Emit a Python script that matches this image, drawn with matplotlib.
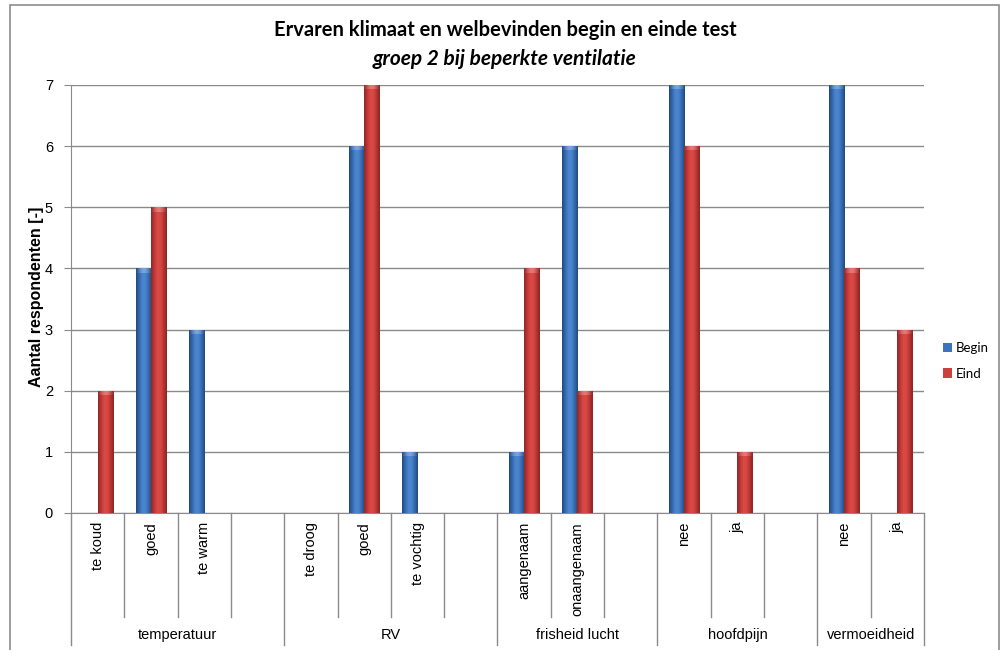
import numpy as np
import matplotlib
matplotlib.use("Agg")
import matplotlib.pyplot as plt
from matplotlib.colors import LinearSegmentedColormap
from matplotlib.patches import Rectangle
from matplotlib.transforms import blended_transform_factory

# --- data -------------------------------------------------------------
groups = ["temperatuur", "RV", "frisheid lucht", "hoofdpijn", "vermoeidheid"]
group_items = [
    ["te koud", "goed", "te warm", ""],
    ["te droog", "goed", "te vochtig", ""],
    ["aangenaam", "onaangenaam", ""],
    ["nee", "ja", ""],
    ["nee", "ja"],
]
begin = [0, 4, 3, np.nan, 0, 6, 1, np.nan, 1, 6, np.nan, 7, 0, np.nan, 7, 0]
eind = [2, 5, 0, np.nan, 0, 7, 0, np.nan, 4, 2, np.nan, 6, 1, np.nan, 4, 3]
series_names = ["Begin", "Eind"]
yticks = [0, 1, 2, 3, 4, 5, 6, 7]

title = "Ervaren klimaat en welbevinden begin en einde test"
subtitle = "groep 2 bij beperkte ventilatie"
ylabel = "Aantal respondenten [-]"

# --- style ------------------------------------------------------------
GRID = "#8a8a8a"
TITLE_FONT = "Lato"
AX_FONT = "Liberation Sans"

blue_cmap = LinearSegmentedColormap.from_list(
    "blue_cyl", ["#21497d", "#3468ad", "#4a85cf", "#4a84cc", "#3469ad", "#22497c"])
red_cmap = LinearSegmentedColormap.from_list(
    "red_cyl", ["#8e2725", "#bb3835", "#db4a46", "#d84744", "#b53532", "#882523"])
cap_cmap = LinearSegmentedColormap.from_list(
    "cap", [(1, 1, 1, 0.0), (1, 1, 1, 0.18), (1, 1, 1, 0.28), (1, 1, 1, 0.18), (1, 1, 1, 0.0)])
mid_colors = ["#3b73bd", "#c9403c"]

labels = [lab for items in group_items for lab in items]
n = len(labels)
x = np.arange(n) + 0.5
w = 0.29

fig = plt.figure(figsize=(10, 6.5), dpi=100)
ax = fig.add_axes([0.071, 1 - 513 / 650, 0.853, 428 / 650])

ax.set_xlim(0, n)
ax.set_ylim(0, 7)

grad = np.linspace(0, 1, 64).reshape(1, -1)


def gradient_bars(xs, vals, cmap, color, name):
    bars = ax.bar(xs, np.nan_to_num(vals), width=w, color=color,
                  edgecolor="none", label=name, zorder=2)
    for b, v in zip(bars, vals):
        if np.isnan(v) or v <= 0:
            continue
        x0, y0 = b.get_x(), b.get_y()
        bw, bh = b.get_width(), b.get_height()
        im = ax.imshow(grad, cmap=cmap, aspect="auto",
                       extent=[x0, x0 + bw, y0, y0 + bh], zorder=3,
                       interpolation="bicubic")
        im.set_clip_path(b)
        # soft highlight on the rounded top of the column
        cap = ax.imshow(grad, cmap=cap_cmap, aspect="auto",
                        extent=[x0, x0 + bw, y0 + bh - 0.07, y0 + bh],
                        zorder=4, interpolation="bicubic")
        cap.set_clip_path(b)
    return bars


gradient_bars(x - w / 2, begin, blue_cmap, mid_colors[0], series_names[0])
gradient_bars(x + w / 2, eind, red_cmap, mid_colors[1], series_names[1])

# axes and grid
ax.set_yticks(yticks)
ax.yaxis.grid(True, color=GRID, linewidth=1.0, zorder=0)
ax.set_axisbelow(True)
for side in ["top", "right"]:
    ax.spines[side].set_visible(False)
ax.spines["left"].set_color(GRID)
ax.spines["bottom"].set_color(GRID)
ax.tick_params(axis="y", length=5, color=GRID, pad=8, labelsize=10.5)
ax.tick_params(axis="x", length=0, labelbottom=False)
for t in ax.get_yticklabels():
    t.set_fontname(AX_FONT)

# y-axis title placed close to the tick labels
fig.text(37 / 1000, 1 - 297 / 650, ylabel, rotation=90, ha="center", va="center",
         fontsize=11.5, fontweight="bold", fontname=AX_FONT)

# category labels and separators below the axis
trans = blended_transform_factory(ax.transData, ax.transAxes)
for xi, lab in zip(x, labels):
    if lab:
        ax.text(xi, -0.021, lab, rotation=90, ha="center", va="top",
                fontsize=10.5, fontname=AX_FONT, transform=trans)

bounds = [0]
for items in group_items:
    bounds.append(bounds[-1] + len(items))
group_edges = set(bounds)
for b in range(n + 1):
    low = -0.308 if b in group_edges else -0.243
    ax.plot([b, b], [0, low], color=GRID, lw=1.0, transform=trans, clip_on=False)
for g, a, bnd in zip(groups, bounds[:-1], bounds[1:]):
    ax.text((a + bnd) / 2, -0.285, g, ha="center", va="center",
            fontsize=10.5, fontname=AX_FONT, transform=trans)

# titles
fig.text(0.505, 1 - 30 / 650, title, ha="center", va="center",
         fontsize=14.5, fontweight="bold", fontname=TITLE_FONT)
fig.text(0.505, 1 - 59 / 650, subtitle, ha="center", va="center",
         fontsize=15, fontweight="bold", style="italic", fontname=TITLE_FONT)

# legend
leg = fig.legend(loc="center left", bbox_to_anchor=(0.931, 1 - 361 / 650),
                 frameon=False, handlelength=0.7, handleheight=0.7,
                 handletextpad=0.3, labelspacing=1.0,
                 prop={"family": TITLE_FONT, "size": 9.5})

# outer chart frame
fig.patches.append(Rectangle((10 / 1000, -0.02), 989 / 1000, 1.02 - 5 / 650,
                             transform=fig.transFigure, fill=False,
                             edgecolor="#8c8c8c", lw=1.2))

fig.savefig("out.png", dpi=100)
